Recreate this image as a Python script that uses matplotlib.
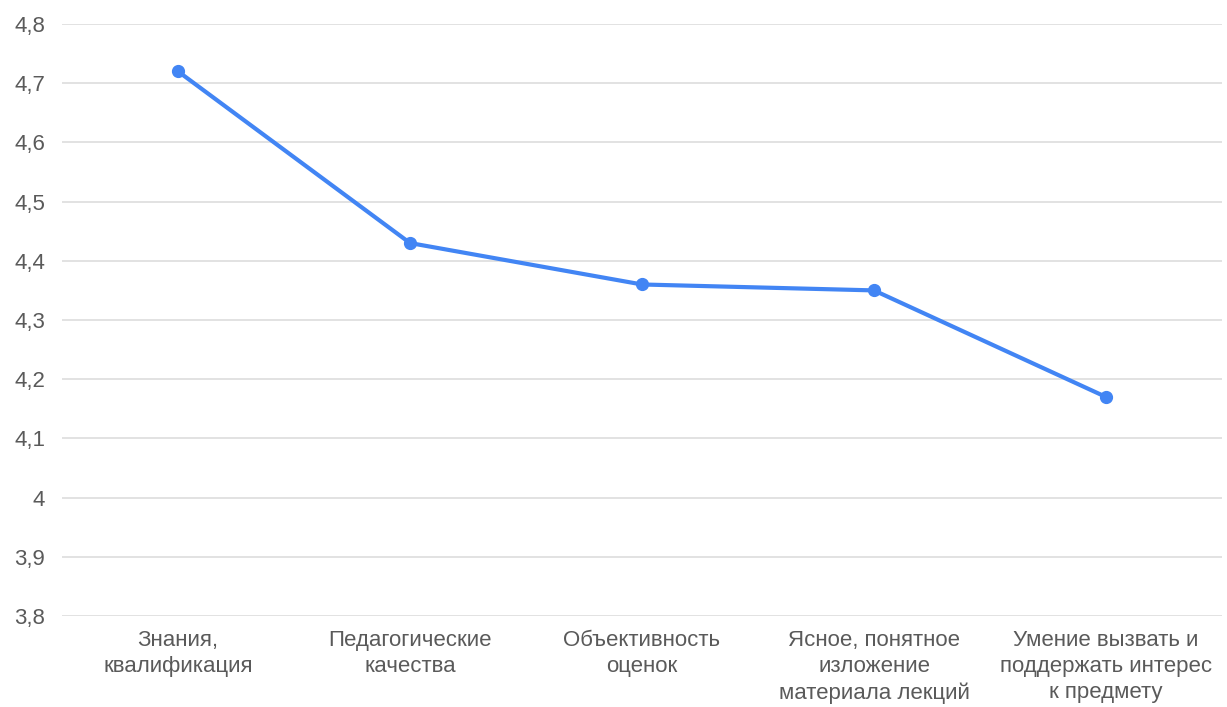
import matplotlib
matplotlib.use("Agg")
import matplotlib.pyplot as plt
from matplotlib.ticker import FuncFormatter

# данные
categories = [
    "Знания,\nквалификация",
    "Педагогические\nкачества",
    "Объективность\nоценок",
    "Ясное, понятное\nизложение\nматериала лекций",
    "Умение вызвать и\nподдержать интерес\nк предмету",
]
scores = [4.72, 4.43, 4.36, 4.35, 4.17]
y_ticks = [3.8, 3.9, 4.0, 4.1, 4.2, 4.3, 4.4, 4.5, 4.6, 4.7, 4.8]

plt.rcParams["font.family"] = ["Liberation Sans", "DejaVu Sans"]

fig = plt.figure(figsize=(12.27, 7.07), dpi=100)
ax = fig.add_axes([62 / 1227, 1 - 616 / 707, 1160 / 1227, 592 / 707])

x = range(len(categories))
ax.plot(x, scores, color="#4285f4", linewidth=3, marker="o", markersize=8.5,
        solid_capstyle="round", zorder=3)

ax.set_xlim(-0.5, len(categories) - 0.5)
ax.set_ylim(3.8, 4.8)
ax.set_yticks(y_ticks)


def fmt(v, _):
    s = f"{v:.1f}".rstrip("0").rstrip(".")
    return s.replace(".", ",")


ax.yaxis.set_major_formatter(FuncFormatter(fmt))
ax.set_xticks(list(x))
ax.set_xticklabels(categories)

ax.grid(axis="y", color="#dddddd", linewidth=1.2)
ax.set_axisbelow(True)
for sp in ax.spines.values():
    sp.set_visible(False)
ax.tick_params(axis="both", length=0, colors="#5a5a5a", labelsize=16)
ax.tick_params(axis="y", pad=12)
ax.tick_params(axis="x", pad=10)
for lbl in ax.get_xticklabels():
    lbl.set_linespacing(1.32)

fig.savefig("out.png", dpi=100)
